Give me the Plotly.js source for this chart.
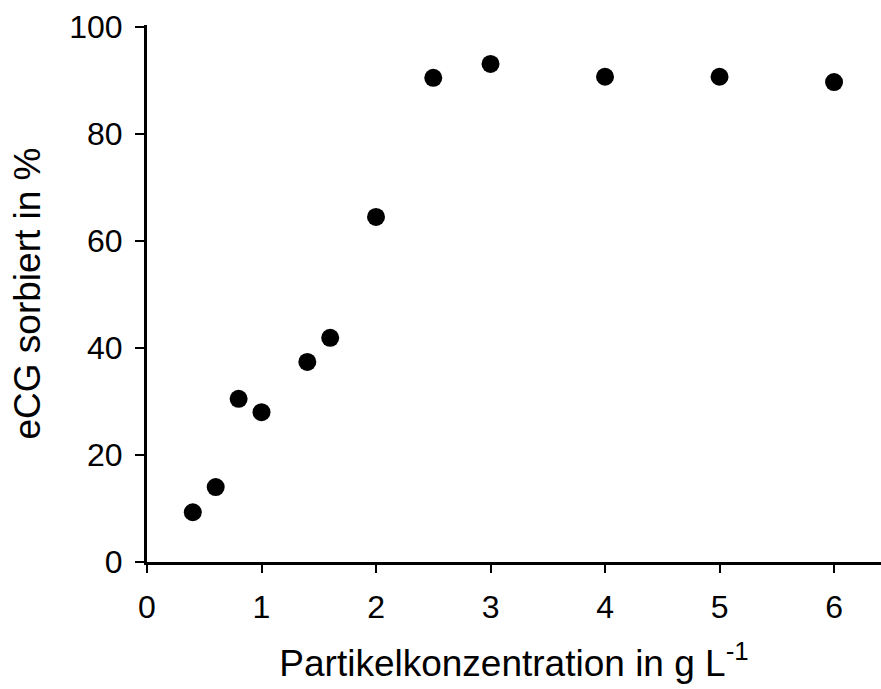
<!DOCTYPE html>
<html>
<head>
<meta charset="utf-8">
<script src="https://cdn.plot.ly/plotly-3.0.1.min.js"></script>
<style>html,body{margin:0;padding:0;background:#fff;}#chart{width:881px;height:689px;}</style>
</head>
<body>
<div id="chart"></div>
<script>
const concentration = [0.4, 0.6, 0.8, 1.0, 1.4, 1.6, 2.0, 2.5, 3, 4, 5, 6];
const sorbed = [9.3, 14.0, 30.5, 28.0, 37.4, 41.9, 64.5, 90.5, 93.1, 90.7, 90.7, 89.7];
const xTicks = [0, 1, 2, 3, 4, 5, 6];
const yTicks = [0, 20, 40, 60, 80, 100];

const fontFam = 'Liberation Sans, Arial, sans-serif';
Plotly.newPlot('chart', [{
  x: concentration, y: sorbed, type: 'scatter', mode: 'markers',
  marker: {color: '#000', size: 18}
}], {
  width: 881, height: 689,
  margin: {l: 147, r: 0, t: 25, b: 127},
  paper_bgcolor: '#fff', plot_bgcolor: '#fff',
  font: {family: fontFam, color: '#000', size: 32},
  showlegend: false,
  xaxis: {
    range: [0, 6.41], tickvals: xTicks, ticktext: xTicks.map(String),
    showline: true, linewidth: 3, linecolor: '#000',
    ticks: 'outside', ticklen: 8, tickwidth: 2, tickcolor: '#000',
    showgrid: false, zeroline: false, automargin: false,
    tickfont: {size: 32}, ticklabelstandoff: 7,
    title: {text: 'Partikelkonzentration in g L<sup>-1</sup>', font: {size: 37}, standoff: 26}
  },
  yaxis: {
    range: [0, 100.37], tickvals: yTicks, ticktext: yTicks.map(String),
    showline: true, linewidth: 3, linecolor: '#000',
    ticks: 'outside', ticklen: 9, tickwidth: 2, tickcolor: '#000',
    showgrid: false, zeroline: false, automargin: false,
    tickfont: {size: 32}, ticklabelstandoff: 6,
    title: {text: 'eCG sorbiert in %', font: {size: 37}, standoff: 18}
  }
}, {displayModeBar: false, staticPlot: true});
</script>
</body>
</html>
